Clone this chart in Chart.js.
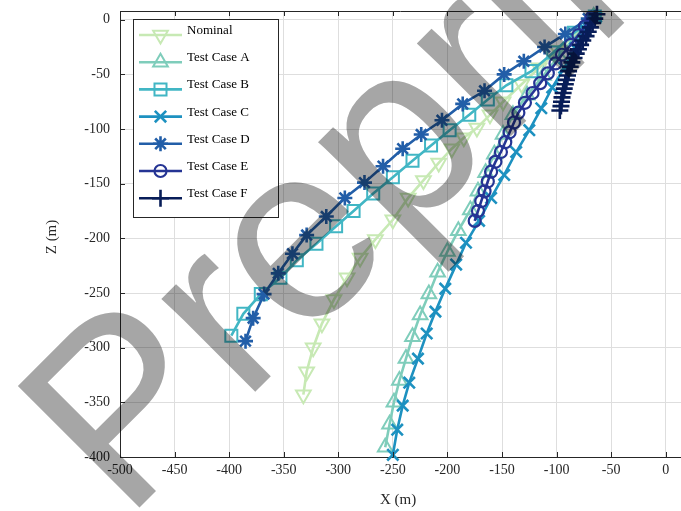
<!DOCTYPE html>
<html>
<head>
<meta charset="utf-8">
<script src="https://cdn.jsdelivr.net/npm/chart.js"></script>
<style>
  html, body { margin: 0; padding: 0; background: #fff; }
</style>
</head>
<body>
<canvas id="chart" width="681" height="511"></canvas>
<script>
// tick labels
const xTickValues = [-500, -450, -400, -350, -300, -250, -200, -150, -100, -50, 0];
const zTickValues = [-400, -350, -300, -250, -200, -150, -100, -50, 0];

// series (X, Z in metres)
const seriesNames = ['Nominal', 'Test Case A', 'Test Case B', 'Test Case C', 'Test Case D', 'Test Case E', 'Test Case F'];

const nominalX = [-65, -82, -99, -116, -132, -149, -161, -173, -185, -196, -208, -222, -236, -250, -266, -280, -292, -304, -315, -323, -329, -332];
const nominalZ = [3, -13, -28, -44, -59, -75, -87, -99, -108, -118, -131, -147, -163, -183, -201, -218, -236, -256, -278, -300, -322, -343];

const caseAX = [-66, -82, -98, -112, -127, -140, -149, -157, -165, -172, -179, -190, -200, -209, -217, -225, -232, -238, -244, -249, -253, -257];
const caseAZ = [3, -15, -33, -51, -69, -87, -105, -123, -140, -157, -174, -193, -212, -231, -251, -270, -290, -310, -330, -350, -370, -391];

const caseBX = [-65, -84, -103, -123, -146, -163, -180, -198, -215, -232, -250, -268, -286, -302, -320, -338, -353, -371, -387, -398];
const caseBZ = [3, -12, -30, -47, -60, -73, -87, -101, -115, -129, -144, -159, -175, -189, -205, -220, -236, -251, -269, -289];

const caseCX = [-64, -73, -83, -93, -104, -114, -125, -137, -148, -160, -171, -183, -192, -202, -211, -219, -227, -235, -241, -246, -250];
const caseCZ = [3, -10, -26, -44, -62, -81, -101, -121, -142, -163, -184, -204, -224, -246, -267, -287, -310, -332, -353, -375, -398];

const caseDX = [-71, -92, -111, -130, -148, -166, -186, -205, -224, -241, -259, -276, -294, -311, -329, -342, -355, -368, -378, -385];
const caseDZ = [1, -13, -25, -38, -50, -65, -77, -92, -105, -118, -134, -149, -163, -180, -197, -214, -232, -251, -273, -294];

const caseEX = [-68, -74, -80, -87, -95, -101, -108, -115, -122, -129, -135, -139, -143, -147, -151, -156, -160, -163, -166, -169, -172, -175];
const caseEZ = [2, -6, -14, -23, -32, -40, -49, -58, -67, -76, -85, -94, -103, -112, -121, -130, -139, -148, -157, -166, -175, -184];

const caseFX = [-63, -65, -67, -69, -71, -73, -76, -78, -80, -82, -84, -86, -87.5, -89, -90, -91, -92, -93, -94, -95, -95.5, -96, -97];
const caseFZ = [5, 1, -3, -7, -11, -15, -19, -23, -27, -31, -35, -39, -43, -47, -51, -55, -59, -63, -67, -71, -75, -79, -83];

const allX = [nominalX, caseAX, caseBX, caseCX, caseDX, caseEX, caseFX];
const allZ = [nominalZ, caseAZ, caseBZ, caseCZ, caseDZ, caseEZ, caseFZ];

// marker look per series (YlGnBu colours)
const looks = [
  { color: '#c7e9b4', shape: 'triangle', rot: 180, r: 8.5, bw: 2 },
  { color: '#7fcdbb', shape: 'triangle', rot: 0, r: 8.5, bw: 2 },
  { color: '#41b6c4', shape: 'rect', rot: 0, r: 8.5, bw: 2 },
  { color: '#1d91c0', shape: 'crossRot', rot: 0, r: 8, bw: 2.6 },
  { color: '#225ea8', shape: 'star', rot: 0, r: 7.5, bw: 2.6 },
  { color: '#253494', shape: 'circle', rot: 0, r: 6, bw: 2.2 },
  { color: '#081d58', shape: 'cross', rot: 0, r: 8.5, bw: 2.6 }
];

const serif = "'Liberation Serif', 'Times New Roman', serif";

const datasets = seriesNames.map(function (name, i) {
  const lk = looks[i];
  return {
    label: name,
    data: allX[i].map(function (x, j) { return { x: x, y: allZ[i][j] }; }),
    showLine: true,
    borderColor: lk.color,
    borderWidth: 2.6,
    pointStyle: lk.shape,
    pointRotation: lk.rot,
    pointRadius: lk.r,
    pointBorderWidth: lk.bw,
    pointBorderColor: lk.color,
    pointBackgroundColor: 'rgba(0,0,0,0)',
    order: seriesNames.length - i,
    clip: 12
  };
});

const decor = {
  id: 'decor',
  afterDraw(chart) {
    const ctx = chart.ctx;
    const a = chart.chartArea;
    const sx = chart.scales.x, sy = chart.scales.y;
    ctx.save();

    // top box line and inward ticks
    ctx.strokeStyle = '#262626';
    ctx.lineWidth = 1;
    ctx.beginPath();
    ctx.moveTo(a.left, a.top + 0.5); ctx.lineTo(a.right, a.top + 0.5);
    xTickValues.forEach(function (v) {
      const px = Math.round(sx.getPixelForValue(v)) + 0.5;
      ctx.moveTo(px, a.bottom); ctx.lineTo(px, a.bottom - 5);
      ctx.moveTo(px, a.top); ctx.lineTo(px, a.top + 5);
    });
    zTickValues.forEach(function (v) {
      const py = Math.round(sy.getPixelForValue(v)) + 0.5;
      ctx.moveTo(a.left, py); ctx.lineTo(a.left + 5, py);
    });
    ctx.stroke();

    // legend
    const lx = 133.5, ly = 19.5, lw = 145, lh = 198;
    ctx.fillStyle = '#ffffff';
    ctx.fillRect(lx, ly, lw, lh);
    ctx.strokeStyle = '#262626';
    ctx.strokeRect(lx, ly, lw, lh);
    ctx.font = '13px ' + serif;
    ctx.textBaseline = 'middle';
    ctx.textAlign = 'left';
    seriesNames.forEach(function (name, i) {
      const lk = looks[i];
      const y = 35 + i * 27.2;
      ctx.strokeStyle = lk.color;
      ctx.lineWidth = 2.6;
      ctx.beginPath();
      ctx.moveTo(139, y); ctx.lineTo(182, y);
      ctx.stroke();
      if (Chart.helpers && Chart.helpers.drawPoint) {
        ctx.lineWidth = lk.bw;
        ctx.fillStyle = 'rgba(0,0,0,0)';
        Chart.helpers.drawPoint(ctx, { pointStyle: lk.shape, rotation: lk.rot, radius: lk.r, borderWidth: lk.bw }, 160.5, y);
      }
      ctx.fillStyle = '#000000';
      ctx.fillText(name, 187, y - 4.5);
    });

    // axis titles
    ctx.fillStyle = '#262626';
    ctx.font = '15px ' + serif;
    ctx.textAlign = 'center';
    ctx.textBaseline = 'middle';
    ctx.fillText('X (m)', 398, 500);
    ctx.save();
    ctx.translate(52, 237);
    ctx.rotate(-Math.PI / 2);
    ctx.fillText('Z (m)', 0, 0);
    ctx.restore();

    // watermark
    ctx.globalCompositeOperation = 'multiply';
    ctx.fillStyle = '#a6a6a6';
    ctx.font = "250px 'Liberation Sans', Arial, sans-serif";
    ctx.textAlign = 'left';
    ctx.textBaseline = 'alphabetic';
    ctx.translate(125, 522);
    ctx.rotate(-Math.PI / 4);
    ctx.fillText('Preprint', 0, 0);

    ctx.restore();
  }
};

const tickFont = { family: serif, size: 14 };

new Chart(document.getElementById('chart'), {
  type: 'scatter',
  data: { datasets: datasets },
  options: {
    responsive: false,
    animation: false,
    layout: { autoPadding: false, padding: { top: 11, right: 0, bottom: 0, left: 0 } },
    plugins: { legend: { display: false }, tooltip: { enabled: false } },
    scales: {
      x: {
        type: 'linear',
        min: -500,
        max: 14,
        afterBuildTicks: function (s) { s.ticks = xTickValues.map(function (v) { return { value: v }; }); },
        afterFit: function (s) { s.height = 54; s.paddingLeft = 0; s.paddingRight = 0; },
        grid: { color: '#dedede', drawTicks: false },
        border: { color: '#262626', width: 1 },
        ticks: { padding: 5, font: tickFont, color: '#262626', maxRotation: 0, autoSkip: false,
                 callback: function (v) { return String(v); } }
      },
      y: {
        type: 'linear',
        min: -400,
        max: 8,
        afterBuildTicks: function (s) { s.ticks = zTickValues.map(function (v) { return { value: v }; }); },
        afterFit: function (s) { s.width = 120; s.paddingTop = 0; s.paddingBottom = 0; },
        grid: { color: '#dedede', drawTicks: false },
        border: { color: '#262626', width: 1 },
        ticks: { padding: 10, font: tickFont, color: '#262626', autoSkip: false,
                 callback: function (v) { return String(v); } }
      }
    }
  },
  plugins: [decor]
});
</script>
</body>
</html>
